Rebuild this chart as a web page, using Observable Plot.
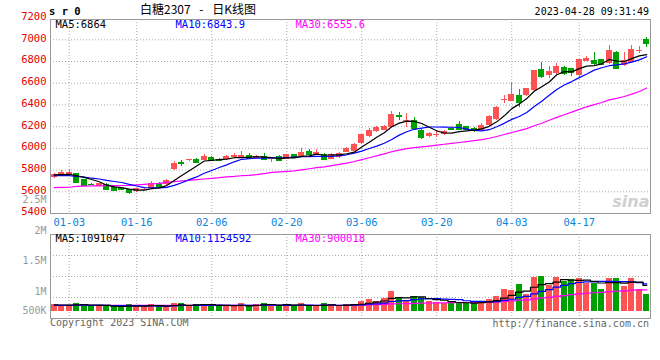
<!DOCTYPE html>
<html><head><meta charset="utf-8">
<script src="https://cdn.jsdelivr.net/npm/d3@7"></script>
<script src="https://cdn.jsdelivr.net/npm/@observablehq/plot@0.6"></script>
<style>
html,body{margin:0;padding:0;background:#fff;}
#wrap{position:relative;width:660px;height:360px;overflow:hidden;background:#fff;font-family:"DejaVu Sans Mono",monospace;}
#wrap svg{position:absolute;left:0;top:0;}
.t{position:absolute;white-space:pre;line-height:12px;font-size:10px;}
</style></head><body>
<div id="wrap">
  <div class="t" style="left:49px;top:5px;font-weight:bold;font-size:10.5px;color:#000;">s r 0</div>
  <div class="t" style="left:140px;top:3px;font-family:'Noto Sans CJK SC',sans-serif;font-size:12px;word-spacing:6px;color:#000;">白糖2307 - 日K线图</div>
  <div class="t" style="right:11px;top:6px;color:#000;">2023-04-28 09:31:49</div>
  <div class="t" style="left:50px;top:317px;color:#666;">Copyright 2023 SINA.COM</div>
  <div class="t" style="right:11px;top:318px;color:#666;">http://finance.sina.com.cn</div>
</div>
<script>
// ---- data ----
const dates = ["12-29","12-30",
 "01-03","01-04","01-05","01-06","01-09","01-10","01-11","01-12","01-13","01-16","01-17","01-18","01-19","01-20","01-30","01-31",
 "02-01","02-02","02-03","02-06","02-07","02-08","02-09","02-10","02-13","02-14","02-15","02-16","02-17","02-20","02-21","02-22","02-23","02-24","02-27","02-28",
 "03-01","03-02","03-03","03-06","03-07","03-08","03-09","03-10","03-13","03-14","03-15","03-16","03-17","03-20","03-21","03-22","03-23","03-24","03-27","03-28","03-29","03-30","03-31",
 "04-03","04-04","04-06","04-07","04-10","04-11","04-12","04-13","04-14","04-17","04-18","04-19","04-20","04-21","04-24","04-25","04-26","04-27","04-28"];
const tickLabels = ["01-03","01-16","02-06","02-20","03-06","03-20","04-03","04-17"];
const priceTicks = [5400,5600,5800,6000,6200,6400,6600,6800,7000,7200];

const opens = [5729,5753,5747,5765,5710,5670,5649,5667,5642,5626, 5618,5603,5615,5627,5679,5667,5808,5866,5888,5902,
 5892,5916,5900,5893,5912,5915,5930,5910,5922,5894, 5925,5900,5943,5925,5974,5937,5943,5900,5919,5965,
 5974,6048,6109,6158,6165,6195,6300,6248,6257,6165, 6105,6125,6125,6180,6219,6200,6183,6165,6211,6266,
 6440,6435,6487,6487,6533,6723,6671,6686,6742,6733, 6671,6803,6809,6815,6779,6886,6763,6788,6890,7003];
const highs = [5770,5796,5802,5770,5715,5675,5680,5672,5650,5630, 5622,5632,5630,5695,5685,5712,5882,5888,5900,5908,
 5940,5922,5910,5935,5950,5968,5950,5930,5950,5920, 5935,5948,5948,5996,5987,5990,5950,5956,5962,6005,
 6045,6132,6186,6205,6210,6337,6327,6318,6281,6172, 6145,6155,6160,6190,6250,6205,6190,6232,6300,6385,
 6487,6610,6539,6555,6720,6794,6754,6779,6750,6740, 6820,6846,6886,6820,6947,6892,6886,6947,6938,7024];
const lows = [5725,5748,5740,5680,5650,5660,5645,5612,5605,5615, 5575,5598,5612,5622,5648,5660,5796,5833,5882,5868,
 5885,5885,5875,5888,5905,5908,5900,5905,5895,5867, 5880,5895,5912,5920,5935,5930,5885,5895,5910,5960,
 5968,6040,6100,6150,6160,6190,6257,6195,6165,6079, 6100,6097,6120,6170,6170,6165,6150,6160,6205,6260,
 6410,6430,6373,6480,6525,6647,6647,6680,6671,6662, 6650,6798,6763,6765,6775,6728,6758,6782,6871,6926];
const closes = [5762,5778,5778,5689,5658,5665,5673,5618,5612,5622, 5594,5627,5625,5679,5652,5704,5858,5862,5896,5873,
 5928,5890,5892,5925,5934,5935,5908,5922,5900,5913, 5888,5943,5919,5965,5943,5962,5894,5943,5956,5996,
 6036,6128,6165,6189,6201,6312,6295,6255,6180,6103, 6140,6130,6155,6176,6174,6172,6165,6211,6293,6380,
 6450,6496,6419,6548,6717,6662,6711,6754,6693,6702, 6815,6825,6779,6772,6901,6740,6809,6911,6900,6965];

const ma5 = [5755,5758,5760,5748,5733,5713.6,5692.6,5660.6,5645.2,5638, 5623.8,5614.6,5616,5629.4,5635.4,5657.4,5703.6,5751,5794.4,5838.6,
 5883.4,5889.8,5895.8,5901.6,5913.8,5915.2,5918.8,5924.8,5919.8,5915.6, 5906.2,5913.2,5912.6,5925.6,5931.6,5946.4,5936.6,5941.4,5939.6,5950.2,
 5965,6011.8,6056.2,6102.8,6143.8,6199,6232.4,6250.4,6248.6,6229, 6194.6,6161.6,6141.6,6140.8,6155,6161.4,6168.4,6179.6,6203,6244.2,
 6299.8,6366,6407.6,6458.6,6526,6568.4,6611.4,6678.4,6707.4,6704.4, 6735,6757.8,6762.8,6778.6,6818.4,6803.4,6800.2,6826.6,6852.2,6864];
const ma10 = [5748,5750,5748,5742,5735,5725,5718,5705,5695,5685.5, 5668.7,5653.6,5638.3,5637.3,5636.7,5640.6,5659.1,5683.5,5711.9,5737,
 5770.4,5796.7,5823.4,5848,5876.2,5899.3,5904.3,5910.3,5910.7,5914.7, 5910.7,5916,5918.7,5922.7,5923.6,5926.3,5924.9,5927,5932.6,5940.9,
 5955.7,5974.2,5998.8,6021.2,6047,6082,6122.1,6153.3,6175.7,6186.4, 6196.8,6197,6196,6194.7,6192,6178,6165,6160.6,6171.9,6199.6,
 6230.6,6267.2,6293.6,6330.8,6385.1,6434.1,6488.7,6543,6583,6615.2, 6651.7,6684.6,6720.6,6743,6761.4,6769.2,6779,6794.7,6815.4,6843.9];
const ma30 = [5638,5640,5642,5650,5652,5654,5655,5656,5657,5658, 5660,5664,5668,5672,5678,5686,5694,5700,5706,5712,
 5718,5724,5730,5738,5742,5748,5752,5758,5768,5779.1, 5783.3,5788.8,5793.5,5802.7,5812.2,5822.1,5829.4,5840.3,5851.7,5864.2,
 5878.9,5895.6,5913.6,5930.6,5948.9,5969.2,5983.8,5996.9,6006.3,6014, 6021.1,6029.1,6037.8,6046.2,6054.2,6062.1,6070.7,6080.3,6093.4,6109,
 6127.7,6146.1,6162.8,6182.2,6208,6231.4,6258.6,6285.6,6310.2,6333.7, 6359.7,6382.9,6403.4,6422.8,6446.2,6460.4,6477.6,6499.4,6523.4,6555.6];

// volumes in thousands of lots
const volumes = [271,242,242,339,297,199,199,199,199,199, 284,199,199,284,199,199,326,326,199,284,
 284,284,199,199,199,326,199,284,326,284, 199,284,199,326,199,199,326,284,199,284,
 284,424,496,424,538,847,568,450,623,568, 424,381,326,326,381,381,314,424,496,623,
 919,877,1131,708,1441,1470,1089,1441,1258,1343, 1398,1161,1161,919,1398,1398,1059,1398,919,695];
const vma5 = [265,262,260,268,278,264,255,247,219,199, 216,216,216,233,233,216,241,267,250,267,
 284,275,250,250,233,241,224,241,267,284, 258,275,258,258,241,241,250,267,241,258,
 275,295,337,382,433,546,575,565,605,611, 527,489,464,405,368,359,346,365,399,448,
 555,668,809,852,1015,1125,1168,1230,1340,1320, 1306,1320,1264,1196,1207,1207,1187,1234,1234,1091];
const vma10 = [250,250,250,252,252,250,248,246,242,239, 240,236,231,226,216,216,229,241,241,250,
 250,258,258,250,250,263,250,246,258,258, 250,250,250,263,263,250,263,263,250,250,
 258,272,302,312,346,411,435,451,494,522, 536,532,515,505,489,443,417,415,402,408,
 457,507,587,625,731,840,918,1020,1096,1168, 1216,1244,1247,1268,1264,1257,1254,1249,1215,1155];
const vma30 = [245,246,246,247,248,248,247,246,245,245, 246,246,245,245,244,244,245,246,246,246,
 247,248,248,248,248,249,249,249,249,249, 247,248,247,246,243,243,247,250,250,253,
 253,260,270,275,286,308,316,320,334,344, 348,351,356,360,366,368,372,376,382,393,
 417,437,468,481,522,565,590,629,664,699, 736,761,783,800,828,847,863,895,904,900];
const volTickValues = [500,1000,1500,2000,2500];
const volTickLabels = ["500K","1M","1.5M","2M","2.5M"];
const priceLegend = ["MA5:6864","MA10:6843.9","MA30:6555.6"];
const volLegend = ["MA5:1091047","MA10:1154592","MA30:900018"];

// ---- build ----
const RED = "#ff5252", GREEN = "#00a000", BLK = "#000", BLU = "#0000ff", MAG = "#ff00ff";
const GRID = "#aaa", FRAME = "#999";
const W = 660, H = 360;
const rows = dates.map((d, i) => ({i, date: d, o: opens[i], h: highs[i], l: lows[i], c: closes[i],
  v: volumes[i], ma5: ma5[i], ma10: ma10[i], ma30: ma30[i], vma5: vma5[i], vma10: vma10[i], vma30: vma30[i]}));
const col = d => d.c >= d.o ? RED : GREEN;
const tickRows = tickLabels.map(t => ({t, i: dates.indexOf(t)}));
const xDomain = [-0.5, dates.length - 0.5];
const half = 0.4;
const baseStyle = {background: "transparent", fontFamily: "DejaVu Sans Mono", fontSize: "10px", overflow: "visible"};
const legendColors = [BLK, BLU, MAG];
const legendDx = [5, 125, 245];
const wrap = document.getElementById("wrap");

// volume axis labels (drawn beneath)
const volLabels = Plot.plot({
  width: W, height: H, marginLeft: 50, marginRight: 10, marginTop: 0, marginBottom: 0,
  x: {domain: xDomain, axis: null},
  y: {domain: [688.5, 2500], range: [310, 199.5], clamp: true, axis: null},
  style: baseStyle,
  marks: [
    Plot.text(volTickValues, {y: d => d, text: (d, k) => volTickLabels[k], frameAnchor: "left",
      textAnchor: "end", dx: -4, lineAnchor: "middle", fill: "#999"})
  ]
});
wrap.appendChild(volLabels);

const plotBottom = 213;
const main = Plot.plot({
  width: W, height: H, marginLeft: 50, marginRight: 10, marginTop: 19, marginBottom: H - plotBottom,
  x: {domain: xDomain, axis: null},
  y: {domain: [priceTicks[0], priceTicks[priceTicks.length - 1]], range: [plotBottom, 17.6], axis: null},
  color: {type: "identity"},
  style: baseStyle,
  marks: [
    Plot.ruleY(priceTicks.slice(1, -1), {stroke: GRID, strokeDasharray: "1,2"}),
    Plot.ruleX(tickRows, {x: "i", stroke: GRID, strokeDasharray: "1,2"}),
    Plot.text(["sina"], {frameAnchor: "bottom-right", textAnchor: "end", lineAnchor: "bottom", dx: -1, dy: -7,
      fill: "#d0d0d0", fontSize: 16, fontStyle: "italic", fontWeight: "bold", fontFamily: "DejaVu Sans"}),
    Plot.frame({stroke: FRAME}),
    Plot.text(priceTicks, {y: d => d, text: d => String(d), frameAnchor: "left", textAnchor: "end",
      dx: -4, dy: -1.5, lineAnchor: "middle", fill: "#e60000", fontSize: 10.5}),
    Plot.text(tickRows, {x: "i", text: "t", frameAnchor: "bottom", lineAnchor: "middle", dy: 9, fill: "#0a84dc", fontSize: 10.5}),
    Plot.ruleX(rows, {x: "i", y1: "l", y2: "h", stroke: col, shapeRendering: "crispEdges"}),
    Plot.rect(rows, {x1: d => d.i - half, x2: d => d.i + half, y1: "o", y2: "c", fill: col, shapeRendering: "crispEdges"}),
    Plot.ruleY(rows, {y: "c", x1: d => d.i - half, x2: d => d.i + half, stroke: col, shapeRendering: "crispEdges"}),
    Plot.line(rows, {x: "i", y: "ma30", stroke: MAG, strokeWidth: 1.2}),
    Plot.line(rows, {x: "i", y: "ma10", stroke: BLU, strokeWidth: 1.2}),
    Plot.line(rows, {x: "i", y: "ma5", stroke: BLK, strokeWidth: 1.2}),
    ...priceLegend.map((s, k) => Plot.text([s], {frameAnchor: "top-left", textAnchor: "start", lineAnchor: "middle",
      dx: legendDx[k], dy: 5, fill: legendColors[k], fontSize: 10.5}))
  ]
});
wrap.appendChild(main);

const volTop = 234, volBottom = 318;
const volDomain = [-309, 3250];
const volGrid = [1, 2, 3].map(k => volDomain[0] + (volDomain[1] - volDomain[0]) * k / 4);
const vol = Plot.plot({
  width: W, height: H, marginLeft: 50, marginRight: 10, marginTop: volTop, marginBottom: H - volBottom,
  x: {domain: xDomain, axis: null},
  y: {domain: volDomain, axis: null},
  color: {type: "identity"},
  style: baseStyle,
  marks: [
    Plot.ruleY(volGrid, {stroke: GRID, strokeDasharray: "1,2"}),
    Plot.ruleX(tickRows, {x: "i", stroke: GRID, strokeDasharray: "1,2"}),
    Plot.frame({stroke: FRAME}),
    Plot.rect(rows, {x1: d => d.i - half, x2: d => d.i + half, y1: 0, y2: "v", fill: col, shapeRendering: "crispEdges"}),
    Plot.line(rows, {x: "i", y: "vma30", stroke: MAG, strokeWidth: 1.2, curve: "step"}),
    Plot.line(rows, {x: "i", y: "vma10", stroke: BLU, strokeWidth: 1.2, curve: "step"}),
    Plot.line(rows, {x: "i", y: "vma5", stroke: BLK, strokeWidth: 1.2, curve: "step"}),
    ...volLegend.map((s, k) => Plot.text([s], {frameAnchor: "top-left", textAnchor: "start", lineAnchor: "middle",
      dx: legendDx[k], dy: 4.5, fill: legendColors[k], fontSize: 10.5}))
  ]
});
wrap.appendChild(vol);
</script></body></html>
